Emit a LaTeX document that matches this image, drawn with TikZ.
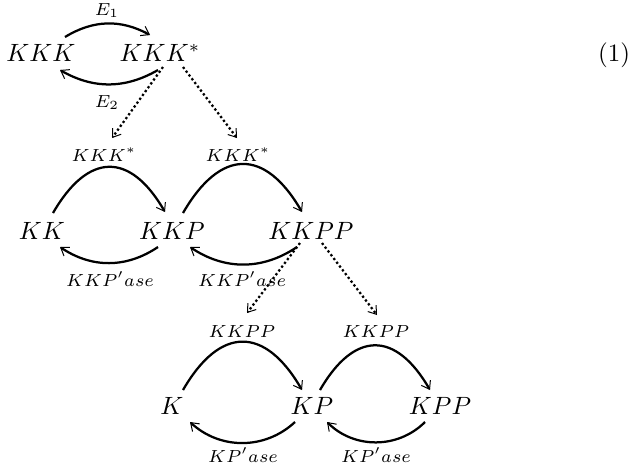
\documentclass[tikz,border=0pt]{standalone}
\usepackage{amsmath}
\usetikzlibrary{arrows.meta}
\tikzset{xytip/.tip={Straight Barb[length = 3pt, width = 4.2pt, line width = 0.4pt 0]}}

\begin{document}
\begin{tikzpicture}[
    x = 0.4pt,
    y = 0.4pt,
    species/.style = {
        inner sep = 0pt,
        text height = 7pt,
        text depth = 0pt
    },
    enzyme/.style = {
        inner sep = 0pt,
        font = \scriptsize,
        text height = 5pt,
        text depth = 1pt
    },
    reaction/.style = {line width = 0.9pt, -xytip},
    activation/.style = {line width = 0.9pt, dash pattern = on 0.9pt off 1pt, -xytip}
]
\useasboundingbox (0, 0) rectangle (632, -467);

% species
\node[species] (kkk) at (41, -53) {$KKK$};
\node[species] (kkks) at (160, -53) {$KKK^*$};
\node[species] (kk) at (42, -231) {$KK$};
\node[species] (kkp) at (172, -231) {$KKP$};
\node[species] (kkpp) at (311, -231) {$KKPP$};
\node[species] (k) at (172, -406) {$K$};
\node[species] (kp) at (312, -406) {$KP$};
\node[species] (kpp) at (440, -406) {$KPP$};
\node[anchor = base] (eqno) at (614, -61) {(1)};

% enzymes
\node[enzyme] (e1) at (107, -10) {$E_1$};
\node[enzyme] (e2) at (107, -102) {$E_2$};
\node[enzyme] (ka1) at (104, -156) {$KKK^*$};
\node[enzyme] (ka2) at (238, -156) {$KKK^*$};
\node[enzyme] (kp1) at (110, -281) {$KKP'ase$};
\node[enzyme] (kp2) at (242, -281) {$KKP'ase$};
\node[enzyme] (kb1) at (242, -332) {$KKPP$};
\node[enzyme] (kb2) at (376, -332) {$KKPP$};
\node[enzyme] (kq1) at (243, -457) {$KP'ase$};
\node[enzyme] (kq2) at (376, -457) {$KP'ase$};

% first cycle
\draw[reaction] ([shift={(24, 16)}]kkk.center) to[bend left = 30] ([shift={(-10, 18)}]kkks.center);
\draw[reaction] ([shift={(-2, -17)}]kkks.center) to[bend left = 30] ([shift={(19, -17)}]kkk.center);

% second cycle
\draw[reaction] ([shift={(11, 18)}]kk.center) to[out = 60, in = 120, looseness = 1.6] ([shift={(-7, 19)}]kkp.center);
\draw[reaction] ([shift={(11, 18)}]kkp.center) to[out = 60, in = 120, looseness = 1.6] ([shift={(-9, 19)}]kkpp.center);
\draw[reaction] ([shift={(-14, -16)}]kkp.center) to[bend left = 34] ([shift={(18, -16)}]kk.center);
\draw[reaction] ([shift={(-14, -16)}]kkpp.center) to[bend left = 34] ([shift={(18, -16)}]kkp.center);

% third cycle
\draw[reaction] ([shift={(11, 16)}]k.center) to[out = 60, in = 120, looseness = 1.6] ([shift={(-10, 16)}]kp.center);
\draw[reaction] ([shift={(8, 16)}]kp.center) to[out = 60, in = 120, looseness = 1.6] ([shift={(-10, 16)}]kpp.center);
\draw[reaction] ([shift={(-17, -16)}]kp.center) to[bend left = 43] ([shift={(18, -16)}]k.center);
\draw[reaction] ([shift={(-15, -16)}]kpp.center) to[bend left = 45] ([shift={(15, -16)}]kp.center);

% activations
\draw[activation] ([shift={(3, -14)}]kkks.center) -- ([shift={(8, 18)}]ka1.center);
\draw[activation] ([shift={(23, -14)}]kkks.center) -- ([shift={(-1, 18)}]ka2.center);
\draw[activation] ([shift={(-11, -12)}]kkpp.center) -- ([shift={(5, 19)}]kb1.center);
\draw[activation] ([shift={(11, -12)}]kkpp.center) -- ([shift={(1, 17)}]kb2.center);

\end{tikzpicture}
\end{document}
